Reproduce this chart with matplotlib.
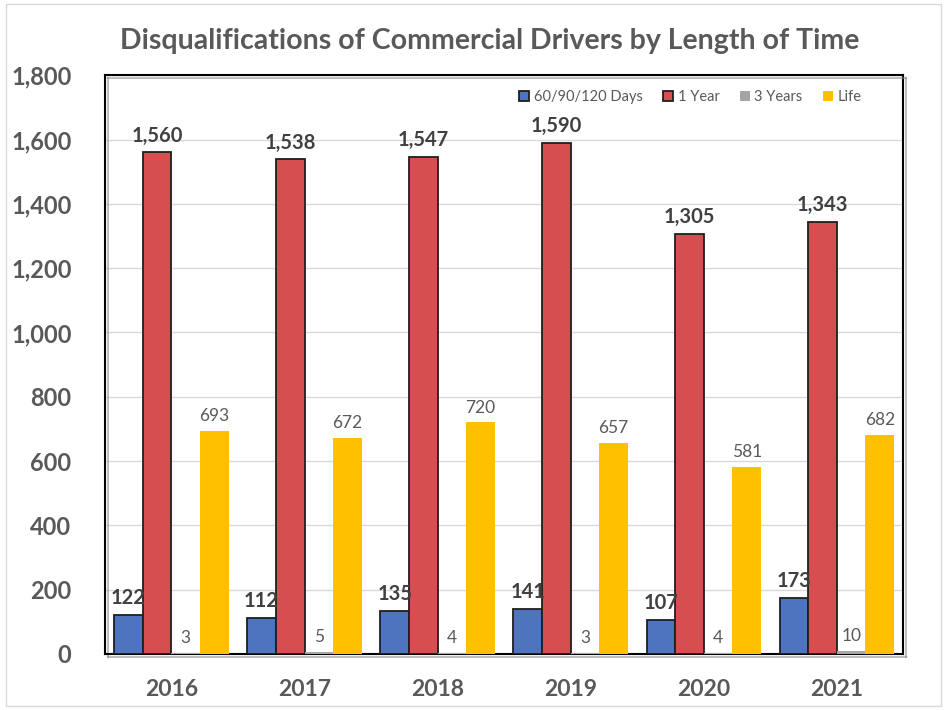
import matplotlib.pyplot as plt
import matplotlib.patheffects as pe
from matplotlib.patches import Rectangle
import numpy as np

years = ["2016", "2017", "2018", "2019", "2020", "2021"]
days_60_90_120 = [122, 112, 135, 141, 107, 173]
one_year = [1560, 1538, 1547, 1590, 1305, 1343]
three_years = [3, 5, 4, 3, 4, 10]
life = [693, 672, 720, 657, 581, 682]

series_names = ["60/90/120 Days", "1 Year", "3 Years", "Life"]
colors = ["#4E74BF", "#D64E50", "#A5A5A5", "#FFC000"]
edges = ["#1F1F1F", "#1F1F1F", "none", "none"]
label_bold = [True, True, False, False]

plt.rcParams["font.family"] = ["Lato", "DejaVu Sans"]
text_color = "#595959"

fig = plt.figure(figsize=(9.45, 7.1), dpi=100)
ax = fig.add_axes([0.111, 0.079, 0.845, 0.815])

# chart area border
fig.patches.append(Rectangle((0.006, 0.006), 0.99, 0.988, transform=fig.transFigure,
                             fill=False, edgecolor="#D9D9D9", linewidth=1))

x = np.arange(len(years))
width = 0.215
data = [days_60_90_120, one_year, three_years, life]

for i, vals in enumerate(data):
    offset = (i - 1.5) * width
    bars = ax.bar(x + offset, vals, width, color=colors[i],
                  edgecolor=edges[i], linewidth=1.3 if edges[i] != "none" else 0,
                  label=series_names[i], zorder=3)
    for b, v in zip(bars, vals):
        ax.annotate(f"{v:,}", (b.get_x() + b.get_width() / 2, v),
                    xytext=(0, 5), textcoords="offset points",
                    ha="center", va="bottom",
                    fontsize=14.5 if label_bold[i] else 12.5,
                    fontweight="bold" if label_bold[i] else "normal",
                    color="#404040" if label_bold[i] else text_color, zorder=4)

ax.set_xlim(-0.5, len(years) - 0.5)
ax.set_ylim(0, 1800)
ax.set_yticks(np.arange(0, 1801, 200))
ax.yaxis.set_major_formatter(plt.FuncFormatter(lambda v, p: f"{int(v):,}"))
ax.set_xticks(x)
ax.set_xticklabels(years)

ax.tick_params(axis="y", length=0, pad=24, labelsize=17, labelcolor=text_color)
ax.tick_params(axis="x", length=0, pad=18, labelsize=16.5, labelcolor=text_color)
for lab in ax.get_xticklabels() + ax.get_yticklabels():
    lab.set_fontweight("bold")

ax.grid(axis="y", color="#D9D9D9", linewidth=1, zorder=0)
ax.set_axisbelow(True)

for s in ax.spines.values():
    s.set_color("black")
    s.set_linewidth(1.5)
    s.set_path_effects([pe.SimpleLineShadow(offset=(2, -2), shadow_color="gray", alpha=0.5),
                        pe.Normal()])

leg = ax.legend(loc="upper right", bbox_to_anchor=(0.955, 0.985), ncol=4,
                frameon=False, fontsize=10.5, handlelength=0.7, handleheight=0.7,
                handletextpad=0.3, columnspacing=1.4, borderaxespad=0)
for t in leg.get_texts():
    t.set_color(text_color)

fig.text(0.518, 0.942, "Disqualifications of Commercial Drivers by Length of Time",
         ha="center", va="center", fontsize=20.5, fontweight="bold", color=text_color)

fig.savefig("out.png", dpi=100)
